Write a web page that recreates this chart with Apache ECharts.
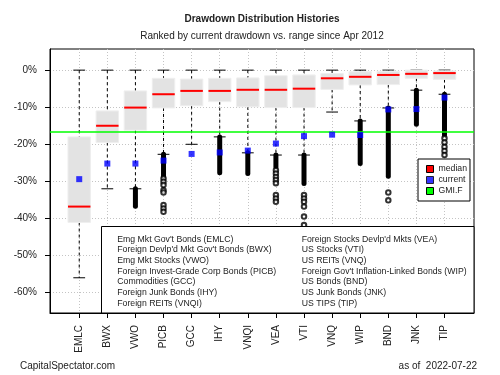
<!DOCTYPE html>
<html>
<head>
<meta charset="utf-8">
<script src="https://cdn.jsdelivr.net/npm/echarts@6/dist/echarts.min.js"></script>
<style>
  html, body { margin: 0; padding: 0; background: #fff; }
  #chart { width: 500px; height: 375px; }
</style>
</head>
<body>
<div id="chart"></div>
<script>
// tickers in rank order
var tickers = ['EMLC', 'BWX', 'VWO', 'PICB', 'GCC', 'IHY', 'VNQI', 'VEA', 'VTI', 'VNQ', 'WIP', 'BND', 'JNK', 'TIP'];
var fundNames = [
  "Emg Mkt Gov't Bonds (EMLC)",
  "Foreign Devlp'd Mkt Gov't Bonds (BWX)",
  "Emg Mkt Stocks (VWO)",
  "Foreign Invest-Grade Corp Bonds (PICB)",
  "Commodities (GCC)",
  "Foreign Junk Bonds (IHY)",
  "Foreign REITs (VNQI)",
  "Foreign Stocks Devlp'd Mkts (VEA)",
  "US Stocks (VTI)",
  "US REITs (VNQ)",
  "Foreign Gov't Inflation-Linked Bonds (WIP)",
  "US Bonds (BND)",
  "US Junk Bonds (JNK)",
  "US TIPS (TIP)"
];

// drawdown box stats, in %
var upperWhisker = [0, 0, 0, 0, 0, 0, 0, 0, 0, 0, 0, 0, 0, 0];
var q3 =           [-18.0, -11.0, -5.6, -2.2, -2.4, -2.2, -2.1, -1.5, -1.3, -0.9, -0.4, -0.3, 0, -0.2];
var medians =      [-36.8, -15.0, -10.1, -6.5, -5.6, -5.6, -5.3, -5.3, -5.0, -2.2, -1.8, -1.3, -1.0, -0.8];
var q1 =           [-41.1, -19.5, -16.2, -10.2, -9.6, -8.5, -9.9, -10.1, -10.1, -5.2, -4.0, -3.9, -2.2, -2.5];
var lowerWhisker = [-56.0, -32.0, -32.0, -22.7, -20.0, -18.0, -22.3, -22.9, -22.9, -11.3, -13.7, -10.2, -5.4, -6.5];
var current =      [-29.4, -25.2, -25.2, -24.4, -22.6, -22.2, -21.7, -19.8, -17.8, -17.4, -17.5, -10.6, -10.5, -7.4];
var gmif = -16.7;

// runs of overlapping outliers (solid black), [ticker, from, to]
var outlierRuns = [
  ['VWO', -32.0, -36.7],
  ['PICB', -22.7, -28.7],
  ['IHY', -18.0, -27.7],
  ['VNQI', -22.3, -27.9],
  ['VEA', -22.9, -26.1],
  ['VTI', -22.9, -30.6],
  ['WIP', -13.7, -25.2],
  ['BND', -10.2, -28.6],
  ['JNK', -5.4, -14.6],
  ['TIP', -6.5, -17.5]
];
// separate outlier circles, [ticker, value]
var outliers = [
  ['PICB', -29.2], ['PICB', -30.1], ['PICB', -31.0], ['PICB', -32.4], ['PICB', -33.0],
  ['PICB', -36.4], ['PICB', -37.3], ['PICB', -38.2],
  ['VEA', -27.0], ['VEA', -27.9], ['VEA', -28.8], ['VEA', -29.6], ['VEA', -30.5],
  ['VEA', -33.7], ['VEA', -34.6], ['VEA', -35.5],
  ['VTI', -33.7], ['VTI', -34.6], ['VTI', -35.5], ['VTI', -36.8], ['VTI', -39.5], ['VTI', -41.8],
  ['BND', -33.0], ['BND', -35.1],
  ['TIP', -18.4], ['TIP', -19.5], ['TIP', -20.7], ['TIP', -21.8], ['TIP', -22.9]
];
var yTicks = [-60, -50, -40, -30, -20, -10, 0];

var FONT = 'Liberation Sans, Arial, sans-serif';
var positions = tickers.map(function (t, i) { return i + 1; });
function pos(t) { return tickers.indexOf(t) + 1; }

var boxData = tickers.map(function (t, i) {
  return [i + 1, upperWhisker[i], q3[i], medians[i], q1[i], lowerWhisker[i]];
});

function renderBox(params, api) {
  var x = api.value(0);
  var hw = 0.4, cw = 0.21;
  var tl = api.coord([x - hw, api.value(2)]);
  var br = api.coord([x + hw, api.value(4)]);
  var mid = api.coord([x, api.value(3)]);
  var hi = api.coord([x, api.value(1)]);
  var lo = api.coord([x, api.value(5)]);
  var cl = api.coord([x - cw, 0])[0];
  var cr = api.coord([x + cw, 0])[0];
  var dash = { stroke: '#000', lineWidth: 1, lineDash: [3, 3] };
  var solid = { stroke: '#000', lineWidth: 1 };
  return {
    type: 'group',
    children: [
      { type: 'line', shape: { x1: hi[0], y1: hi[1], x2: hi[0], y2: tl[1] }, style: dash },
      { type: 'line', shape: { x1: lo[0], y1: br[1], x2: lo[0], y2: lo[1] }, style: dash },
      { type: 'line', shape: { x1: cl, y1: hi[1], x2: cr, y2: hi[1] }, style: solid },
      { type: 'line', shape: { x1: cl, y1: lo[1], x2: cr, y2: lo[1] }, style: solid },
      { type: 'rect', shape: { x: tl[0], y: tl[1], width: br[0] - tl[0], height: br[1] - tl[1] },
        style: { fill: '#e3e3e3', stroke: '#efefef', lineWidth: 1 } },
      { type: 'line', shape: { x1: tl[0], y1: mid[1], x2: br[0], y2: mid[1] },
        style: { stroke: '#ff0000', lineWidth: 2 } }
    ]
  };
}

function renderRun(params, api) {
  var a = api.coord([api.value(0), api.value(1)]);
  var b = api.coord([api.value(0), api.value(2)]);
  return {
    type: 'rect',
    shape: { x: a[0] - 2.5, y: a[1] - 2.5, width: 5, height: b[1] - a[1] + 5, r: 2.5 },
    style: { fill: '#000' }
  };
}

var chart = echarts.init(document.getElementById('chart'));
chart.setOption({
  animation: false,
  textStyle: { fontFamily: FONT },
  title: [
    { text: 'Drawdown Distribution Histories', left: 262, top: 14, textAlign: 'center', padding: 0,
      textStyle: { fontSize: 10, fontWeight: 'bold', color: '#222', fontFamily: FONT } },
    { text: 'Ranked by current drawdown vs. range since Apr 2012', left: 262, top: 31, textAlign: 'center', padding: 0,
      textStyle: { fontSize: 10, fontWeight: 'normal', color: '#222', fontFamily: FONT } },
    { text: 'CapitalSpectator.com', left: 20, top: 361, padding: 0,
      textStyle: { fontSize: 10, fontWeight: 'normal', color: '#222', fontFamily: FONT } },
    { text: 'as of  2022-07-22', right: 23, top: 361, padding: 0,
      textStyle: { fontSize: 10, fontWeight: 'normal', color: '#222', fontFamily: FONT } }
  ],
  legend: {
    left: 418, top: 159,
    orient: 'vertical',
    backgroundColor: '#fff',
    borderColor: '#000', borderWidth: 1, borderRadius: 0,
    padding: [5, 3, 5, 8],
    itemWidth: 7, itemHeight: 7, itemGap: 1,
    selectedMode: false,
    textStyle: { fontSize: 8.7, color: '#222', fontFamily: FONT, lineHeight: 10 },
    data: [
      { name: 'median', icon: 'rect', itemStyle: { color: '#ff0000', borderColor: '#000', borderWidth: 1 } },
      { name: 'current', icon: 'rect', itemStyle: { color: '#0000ff', borderColor: '#000', borderWidth: 1 } },
      { name: 'GMI.F', icon: 'rect', itemStyle: { color: '#00ff00', borderColor: '#000', borderWidth: 1 } }
    ]
  },
  grid: {
    left: 50, right: 26, top: 49, bottom: 62,
    show: true, borderColor: '#000', borderWidth: 1, backgroundColor: 'transparent'
  },
  xAxis: {
    type: 'value', min: -0.04, max: 15.05,
    axisLine: { show: true, onZero: false, lineStyle: { color: '#000' } },
    axisTick: { show: true, length: 5, customValues: positions, lineStyle: { color: '#000' } },
    axisLabel: {
      customValues: positions, rotate: 90, margin: 12,
      fontSize: 10, color: '#222', fontFamily: FONT,
      formatter: function (v) { return tickers[Math.round(v) - 1]; }
    },
    splitLine: { show: true, lineStyle: { color: '#c4c4c4', type: [1, 2] } }
  },
  yAxis: {
    type: 'value', min: -65.5, max: 5.7,
    axisLine: { show: true, onZero: false, lineStyle: { color: '#000' } },
    axisTick: { show: true, length: 5, customValues: yTicks, lineStyle: { color: '#000' } },
    axisLabel: {
      customValues: yTicks, margin: 13,
      fontSize: 10, color: '#222', fontFamily: FONT,
      formatter: function (v) { return v + '%'; }
    },
    splitLine: { show: true, lineStyle: { color: '#c4c4c4', type: [1, 2] } }
  },
  graphic: [
    { type: 'rect', z: 100, shape: { x: 101.5, y: 226.5, width: 372.5, height: 86.5 },
      style: { fill: '#fff', stroke: '#000', lineWidth: 1 } }
  ].concat(fundNames.map(function (n, i) {
    return {
      type: 'text', z: 101,
      x: i < 7 ? 117.3 : 301.7,
      y: 239.3 + (i % 7) * 10.67,
      style: { text: n, font: '8.7px ' + FONT, fill: '#222', textVerticalAlign: 'middle' }
    };
  })),
  series: [
    {
      name: 'median', type: 'custom', renderItem: renderBox, z: 2,
      encode: { x: 0, y: [1, 2, 3, 4, 5] },
      data: boxData
    },
    {
      name: 'runs', type: 'custom', renderItem: renderRun, z: 3,
      encode: { x: 0, y: [1, 2] },
      data: outlierRuns.map(function (r) { return [pos(r[0]), r[1], r[2]]; })
    },
    {
      name: 'outliers', type: 'scatter', z: 3,
      symbol: 'emptyCircle', symbolSize: 4.5,
      itemStyle: { color: '#000', borderColor: '#000', borderWidth: 1 },
      data: outliers.map(function (o) { return [pos(o[0]), o[1]]; })
    },
    {
      name: 'GMI.F', type: 'line', z: 4, data: [],
      itemStyle: { color: '#00ff00' },
      markLine: {
        silent: true, symbol: ['none', 'none'], label: { show: false },
        lineStyle: { color: '#00ff00', width: 1.6, type: 'solid' },
        data: [{ yAxis: gmif }]
      }
    },
    {
      name: 'current', type: 'scatter', z: 5,
      symbol: 'rect', symbolSize: 6,
      itemStyle: { color: '#0000ff' },
      data: current.map(function (v, i) { return [i + 1, v]; })
    }
  ]
});
</script>
</body>
</html>
